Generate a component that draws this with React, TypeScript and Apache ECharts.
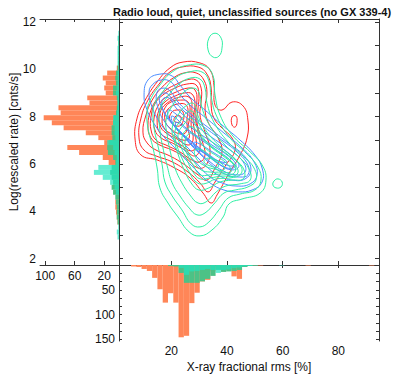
import React, { useEffect, useRef } from "react";
import * as echarts from "echarts";

const TITLE = "Radio loud, quiet, unclassified sources (no GX 339-4)";
const X_NAME = "X-ray fractional rms [%]";
const Y_NAME = "Log(rescaled rate) [cnts/s]";

const X_RANGE = [1.2, 94.6];
const Y_RANGE = [1.73, 12.13];
const LEFT_COUNT_MAX = 107;
const BOTTOM_COUNT_MAX = 153.5;

const xTickValues = [20, 40, 60, 80];
const yLabelValues = [2, 4, 6, 8, 10, 12];
const yTickValues = [2, 3, 4, 5, 6, 7, 8, 9, 10, 11, 12];
const leftCountLabels = [20, 60, 100];
const bottomCountLabels = [50, 100, 150];
const bottomCountTicks = [16.67, 33.33, 50, 66.67, 83.33, 100, 116.67, 133.33, 150];

// left marginal histogram (counts per log-rate bin)
const leftBinStart = 2.81;
const leftBinWidth = 0.21;
const leftOrange = [0, 0, 0, 2, 3, 4, 5, 5, 4, 3, 3, 2, 2, 3, 6, 14, 22, 54, 70, 20, 28, 45, 75, 91, 102, 79, 82, 40, 43, 18, 20, 18, 22, 16, 3, 1, 0, 0, 0, 0, 0, 0];
const leftGreen = [0, 0, 0, 2, 3, 3, 3, 4, 5, 8, 10, 8, 10, 12, 10, 5, 8, 15, 16, 14, 9, 10, 10, 8, 7, 4, 3, 2, 3, 8, 8, 4, 5, 4, 2, 1, 1, 1, 1, 1, 1, 0];
const leftAqua = [2, 3, 1, 0, 0, 0, 0, 0, 0, 4, 6, 12, 22, 34, 28, 4, 3, 6, 8, 16, 5, 6, 6, 8, 8, 3, 2, 2, 2, 4, 3, 2, 2, 2, 1, 2, 2, 2, 2, 1, 2, 1];

// bottom marginal histogram (counts per rms bin)
const bottomBinStart = 3.6;
const bottomBinWidth = 1.9;
const bottomOrange = [0, 3, 4, 8, 12, 26, 49, 76, 57, 76, 146, 143, 77, 56, 33, 30, 13, 7, 8, 10, 23, 28, 4, 2, 1, 1, 0, 0, 0, 0, 0, 0, 0, 0, 1, 0, 0, 0, 0, 0, 0, 0, 0, 0, 0, 0, 1, 0];
const bottomGreen = [0, 0, 0, 0, 0, 0, 0, 0, 2, 3, 16, 36, 36, 36, 33, 28, 22, 10, 14, 13, 12, 10, 4, 2, 1, 0, 0, 0, 0, 0, 0, 0, 0, 0, 0, 0, 0, 0, 0, 0, 0, 0, 0, 0, 0, 0, 0, 0];
const bottomAqua = [0, 0, 0, 0, 0, 0, 0, 0, 0, 0, 6, 20, 13, 12, 10, 8, 10, 16, 10, 9, 6, 5, 3, 2, 1, 0, 0, 0, 0, 1, 0, 0, 0, 0, 0, 0, 0, 0, 0, 0, 0, 0, 0, 0, 0, 0, 0, 0];

// contour rings, [rms %, log rate]
const redContours = [
  [[24.2, 10.31], [30.3, 10.27], [33.9, 9.97], [35.3, 9.34], [35.7, 8.49], [38.2, 8.28], [41.8, 8.62], [45.8, 8.45], [47.5, 7.86], [47.2, 7.1], [44.7, 6.38], [40.4, 5.54], [36.4, 4.69], [34.3, 4.35], [31.4, 4.77], [26.7, 5.41], [20.6, 5.87], [14.9, 6.17], [9.1, 6.38], [7.0, 7.01], [7.7, 7.94], [10.6, 8.7], [14.9, 9.47], [19.5, 10.06]],
  [[23.8, 10.1], [29.6, 10.1], [32.8, 9.8], [34.3, 9.21], [34.3, 8.49], [35.3, 7.94], [38.2, 7.52], [41.8, 7.1], [42.9, 6.59], [39.6, 5.96], [35.7, 5.24], [33.2, 4.82], [30.3, 5.2], [26.0, 5.66], [20.3, 6.09], [14.5, 6.34], [10.2, 6.59], [8.4, 7.1], [9.1, 7.94], [11.6, 8.7], [15.6, 9.38], [19.5, 9.89]],
  [[24.6, 9.85], [28.9, 9.85], [31.7, 9.55], [32.8, 9.0], [32.1, 8.37], [33.2, 7.77], [36.8, 7.1], [38.2, 6.51], [35.7, 5.83], [32.8, 5.32], [29.6, 5.54], [24.9, 5.96], [19.5, 6.34], [14.5, 6.59], [11.3, 6.89], [9.8, 7.35], [10.9, 8.07], [13.1, 8.7], [16.7, 9.25], [20.6, 9.63]],
  [[25.3, 9.55], [28.9, 9.55], [30.7, 9.21], [30.7, 8.62], [30.3, 8.07], [32.1, 7.35], [33.9, 6.59], [32.5, 5.96], [29.6, 5.83], [25.3, 6.25], [20.3, 6.59], [15.9, 6.8], [12.7, 7.1], [11.6, 7.65], [12.7, 8.28], [14.9, 8.75], [18.1, 9.13], [22.0, 9.38]],
  [[25.6, 9.38], [28.9, 9.34], [29.9, 8.92], [29.6, 8.37], [29.2, 7.77], [31.0, 7.01], [32.1, 6.38], [30.3, 6.09], [27.4, 6.17], [23.1, 6.51], [18.1, 6.8], [14.5, 7.01], [12.7, 7.44], [12.7, 7.99], [14.1, 8.54], [17.0, 8.92], [21.3, 9.21]],
  [[26.0, 9.21], [28.5, 9.13], [29.2, 8.7], [28.5, 8.07], [29.6, 7.35], [30.3, 6.68], [28.5, 6.34], [24.9, 6.59], [20.3, 6.89], [16.3, 7.1], [14.1, 7.44], [13.8, 7.94], [15.2, 8.45], [17.7, 8.79], [21.7, 9.04]],
  [[24.6, 9.0], [27.4, 8.96], [28.5, 8.54], [27.8, 7.94], [28.5, 7.27], [28.9, 6.76], [27.1, 6.55], [23.5, 6.8], [19.2, 7.06], [15.9, 7.31], [14.9, 7.77], [15.6, 8.28], [18.1, 8.66], [21.3, 8.87]],
  [[23.1, 8.83], [26.7, 8.79], [27.4, 8.28], [27.1, 7.65], [27.8, 7.01], [26.0, 6.8], [22.0, 7.06], [18.1, 7.31], [15.9, 7.65], [15.9, 8.15], [18.1, 8.54]],
  [[22.8, 8.7], [26.0, 8.62], [26.7, 8.11], [26.0, 7.52], [26.4, 7.1], [24.2, 7.01], [20.6, 7.23], [17.4, 7.52], [16.7, 7.94], [17.7, 8.37], [19.9, 8.62]],
  [[22.4, 8.54], [25.6, 8.45], [25.6, 7.86], [25.3, 7.35], [23.1, 7.27], [19.5, 7.52], [17.7, 7.86], [18.5, 8.28]],
  [[21.7, 8.28], [24.2, 8.2], [23.8, 7.69], [21.7, 7.61], [19.5, 7.86], [19.9, 8.15]],
  [[21.7, 8.03], [23.5, 7.99], [22.8, 7.77], [21.0, 7.82]],
  [[41.8, 7.99], [43.2, 8.03], [43.6, 7.77], [42.9, 7.56], [41.8, 7.65]],
];

const blueContours = [
  [[11.6, 9.55], [15.9, 9.8], [20.3, 9.72], [23.1, 9.34], [26.7, 8.83], [32.1, 8.28], [38.2, 7.65], [44.7, 7.01], [50.0, 6.38], [52.6, 5.83], [52.6, 5.24], [49.0, 4.9], [44.0, 4.82], [38.9, 4.9], [33.9, 5.2], [29.6, 5.66], [25.3, 6.17], [21.3, 6.68], [17.7, 7.1], [14.1, 7.65], [11.3, 8.28], [10.2, 8.92]],
  [[13.1, 9.34], [16.3, 9.55], [19.9, 9.47], [22.4, 9.04], [26.7, 8.49], [32.5, 7.94], [38.9, 7.31], [45.4, 6.68], [49.7, 6.09], [50.8, 5.54], [48.3, 5.16], [43.2, 5.07], [38.2, 5.2], [33.5, 5.49], [29.6, 5.96], [25.6, 6.47], [21.7, 6.93], [18.1, 7.39], [14.9, 7.94], [12.7, 8.54], [12.0, 9.04]],
  [[14.9, 9.04], [17.4, 9.21], [19.9, 9.04], [22.4, 8.62], [27.4, 8.07], [33.5, 7.52], [40.4, 6.89], [46.5, 6.3], [48.6, 5.75], [46.5, 5.37], [41.8, 5.32], [37.5, 5.49], [33.2, 5.83], [29.2, 6.3], [25.3, 6.76], [21.3, 7.27], [17.7, 7.77], [15.2, 8.37]],
  [[15.9, 8.87], [18.1, 9.0], [20.6, 8.7], [24.9, 8.2], [30.3, 7.69], [37.1, 7.1], [43.6, 6.51], [47.5, 5.96], [47.5, 5.54], [44.7, 5.45], [40.0, 5.54], [35.3, 5.87], [31.4, 6.3], [27.1, 6.8], [23.1, 7.35], [19.2, 7.9], [16.3, 8.45]],
  [[16.7, 8.7], [19.2, 8.79], [21.7, 8.37], [27.4, 7.77], [33.9, 7.18], [41.1, 6.59], [45.8, 6.09], [46.5, 5.66], [43.2, 5.54], [38.6, 5.71], [33.9, 6.09], [29.6, 6.55], [25.3, 7.06], [21.0, 7.61], [17.7, 8.11]],
  [[18.8, 8.28], [21.7, 8.11], [27.4, 7.52], [34.6, 6.93], [41.8, 6.34], [44.3, 5.92], [41.8, 5.75], [37.5, 5.96], [33.2, 6.34], [28.2, 6.85], [23.1, 7.39], [19.5, 7.86]],
  [[20.3, 8.03], [26.7, 7.39], [34.6, 6.8], [41.4, 6.25], [43.2, 5.92], [40.0, 5.83], [35.3, 6.17], [30.3, 6.59], [25.3, 7.1], [21.0, 7.61]],
  [[21.7, 7.77], [27.4, 7.27], [35.0, 6.68], [41.1, 6.17], [42.2, 5.92], [38.2, 6.04], [33.2, 6.42], [27.4, 6.93], [22.4, 7.44]],
  [[28.5, 6.93], [35.3, 6.47], [40.0, 6.09], [36.8, 6.13], [32.5, 6.42], [28.5, 6.72]],
];

const greenContours = [
  [[12.4, 8.7], [15.9, 9.34], [20.3, 9.89], [26.0, 10.18], [32.1, 10.14], [35.0, 9.72], [35.7, 8.92], [37.5, 8.07], [41.8, 7.23], [48.3, 6.51], [52.6, 5.96], [54.0, 5.32], [51.9, 4.77], [45.4, 4.52], [40.7, 4.31], [38.6, 3.76], [34.6, 3.21], [30.3, 2.96], [26.4, 3.13], [22.4, 3.76], [18.8, 4.35], [15.9, 4.99], [14.9, 5.83], [13.4, 6.68], [11.6, 7.52], [11.3, 8.2]],
  [[14.1, 8.58], [17.4, 9.13], [21.3, 9.63], [26.4, 9.89], [31.0, 9.89], [33.5, 9.51], [34.3, 8.83], [36.4, 7.99], [41.1, 7.1], [47.2, 6.42], [51.1, 5.87], [52.2, 5.32], [50.0, 4.9], [44.7, 4.73], [40.4, 4.56], [37.1, 4.06], [33.5, 3.55], [30.3, 3.34], [27.1, 3.47], [23.8, 4.06], [20.3, 4.65], [17.7, 5.24], [16.7, 5.96], [15.2, 6.76], [13.8, 7.52], [13.4, 8.15]],
  [[15.9, 8.28], [18.8, 8.87], [22.4, 9.34], [26.7, 9.63], [30.3, 9.59], [32.1, 9.21], [32.8, 8.58], [35.3, 7.77], [40.4, 6.93], [46.1, 6.3], [49.7, 5.83], [50.4, 5.32], [47.5, 5.03], [42.9, 4.9], [38.9, 4.77], [35.3, 4.31], [32.1, 3.93], [29.2, 3.85], [26.4, 4.14], [23.1, 4.65], [20.3, 5.2], [18.5, 5.92], [17.0, 6.68], [15.9, 7.44]],
  [[18.1, 7.86], [20.3, 8.45], [23.8, 8.96], [27.4, 9.21], [29.9, 9.04], [31.0, 8.37], [33.9, 7.61], [39.3, 6.8], [44.7, 6.25], [47.9, 5.79], [48.3, 5.32], [44.7, 5.16], [39.6, 5.07], [36.1, 4.82], [32.5, 4.4], [29.6, 4.35], [26.7, 4.69], [23.8, 5.2], [21.3, 5.83], [19.5, 6.59], [18.5, 7.23]],
  [[20.3, 7.52], [22.4, 8.07], [25.6, 8.49], [28.2, 8.54], [29.6, 8.03], [32.8, 7.35], [38.2, 6.68], [43.2, 6.17], [46.1, 5.75], [45.8, 5.37], [41.8, 5.32], [37.5, 5.24], [33.5, 4.99], [29.9, 4.9], [27.1, 5.2], [24.6, 5.75], [22.4, 6.42], [21.0, 7.01]],
  [[21.3, 7.39], [23.5, 7.86], [26.4, 8.24], [28.5, 8.11], [30.7, 7.52], [35.0, 6.89], [40.4, 6.38], [44.7, 5.96], [45.0, 5.58], [41.1, 5.41], [36.1, 5.37], [31.7, 5.16], [28.9, 5.24], [26.4, 5.66], [23.8, 6.25], [22.0, 6.8]],
  [[22.4, 7.23], [24.6, 7.69], [27.1, 7.94], [28.9, 7.61], [32.1, 7.01], [37.1, 6.51], [41.8, 6.09], [44.0, 5.71], [42.5, 5.49], [38.2, 5.49], [33.9, 5.41], [30.3, 5.37], [27.8, 5.66], [25.6, 6.17], [23.5, 6.72]],
  [[23.8, 7.06], [25.6, 7.48], [27.8, 7.56], [30.3, 7.18], [34.6, 6.68], [39.6, 6.25], [42.9, 5.87], [42.2, 5.58], [38.2, 5.58], [33.9, 5.54], [30.3, 5.54], [28.2, 5.87], [26.0, 6.34]],
  [[24.9, 6.93], [26.7, 7.31], [28.9, 7.18], [32.1, 6.68], [36.8, 6.3], [40.4, 5.96], [41.4, 5.66], [38.2, 5.66], [33.9, 5.66], [30.7, 5.75], [28.2, 6.09], [26.0, 6.51]],
  [[28.5, 6.59], [31.0, 6.59], [34.6, 6.25], [38.2, 6.0], [38.9, 5.75], [35.3, 5.79], [31.4, 5.96], [28.9, 6.25]],
  [[33.2, 6.25], [36.1, 6.09], [36.8, 5.87], [33.9, 5.92], [31.7, 6.09]],
  [[33.5, 11.32], [35.7, 11.53], [37.9, 11.32], [38.2, 10.9], [37.1, 10.56], [35.0, 10.52], [33.2, 10.82]],
  [[56.9, 5.28], [58.3, 5.37], [59.8, 5.24], [59.4, 5.03], [57.6, 4.99], [56.5, 5.11]],
];

const FONT = '"Liberation Sans", Arial, Helvetica, sans-serif';
const AXIS_COLOR = "#333";
const RED = "#ff2424";
const BLUE = "#4a8cff";
const GREEN = "#2ef0a4";
const ORANGE = "#ff8658";
const HIST_GREEN = "#4cc286";
const HIST_AQUA = "#22e4bf";

const axisLine = { show: true, lineStyle: { color: AXIS_COLOR, width: 1 } };
const ticks = (vals: number[], len: number) => ({
  show: true,
  inside: true,
  length: len,
  customValues: vals,
  lineStyle: { color: AXIS_COLOR, width: 1 },
});
const labels = (vals: number[], margin: number) => ({
  show: true,
  customValues: vals,
  margin,
  fontSize: 12,
  color: "#111",
  fontFamily: FONT,
});
const noLabel = { show: false };
const noSplit = { show: false };

function contourSeries(rings: number[][][], color: string) {
  return {
    type: "custom",
    xAxisIndex: 0,
    yAxisIndex: 0,
    clip: true,
    silent: true,
    data: rings.map((r, i) => [r[0][0], r[0][1], i]),
    renderItem: (params: any, api: any) => {
      const ring = rings[params.dataIndex];
      const pts = ring.map((p) => api.coord(p));
      return {
        type: "polygon",
        shape: { points: pts, smooth: 0.45 },
        style: { fill: "none", stroke: color, lineWidth: 1 },
      };
    },
  };
}

function leftHistSeries(counts: number[], color: string, opacity: number) {
  const data = counts
    .map((c, i) => [leftBinStart + i * leftBinWidth, leftBinStart + (i + 1) * leftBinWidth, c])
    .filter((d) => d[2] > 0);
  return {
    type: "custom",
    xAxisIndex: 2,
    yAxisIndex: 2,
    silent: true,
    encode: { x: 2, y: 0 },
    data,
    renderItem: (params: any, api: any) => {
      const a = api.coord([0, api.value(0)]);
      const b = api.coord([api.value(2), api.value(1)]);
      return {
        type: "rect",
        shape: { x: Math.min(a[0], b[0]), y: Math.min(a[1], b[1]), width: Math.abs(a[0] - b[0]), height: Math.abs(a[1] - b[1]) },
        style: { fill: color, opacity },
      };
    },
  };
}

function bottomHistSeries(counts: number[], color: string, opacity: number) {
  const data = counts
    .map((c, i) => [bottomBinStart + i * bottomBinWidth, bottomBinStart + (i + 1) * bottomBinWidth, c])
    .filter((d) => d[2] > 0);
  return {
    type: "custom",
    xAxisIndex: 4,
    yAxisIndex: 3,
    silent: true,
    encode: { x: 0, y: 2 },
    data,
    renderItem: (params: any, api: any) => {
      const a = api.coord([api.value(0), 0]);
      const b = api.coord([api.value(1), api.value(2)]);
      return {
        type: "rect",
        shape: { x: Math.min(a[0], b[0]), y: Math.min(a[1], b[1]), width: Math.abs(a[0] - b[0]), height: Math.abs(a[1] - b[1]) },
        style: { fill: color, opacity },
      };
    },
  };
}

const option: any = {
  animation: false,
  backgroundColor: "#ffffff",
  textStyle: { fontFamily: FONT },
  grid: [
    { left: 119, top: 19, width: 260, height: 246 },
    { left: 40, top: 19, width: 79, height: 246 },
    { left: 119, top: 265, width: 260, height: 76 },
  ],
  xAxis: [
    { gridIndex: 0, type: "value", position: "bottom", min: X_RANGE[0], max: X_RANGE[1], axisLine, axisTick: ticks(xTickValues, 3), axisLabel: noLabel, splitLine: noSplit },
    { gridIndex: 0, type: "value", position: "top", min: X_RANGE[0], max: X_RANGE[1], axisLine, axisTick: ticks(xTickValues, 4), axisLabel: noLabel, splitLine: noSplit },
    { gridIndex: 1, type: "value", position: "bottom", inverse: true, min: 0, max: LEFT_COUNT_MAX, axisLine, axisTick: ticks(leftCountLabels, 4), axisLabel: labels(leftCountLabels, 5), splitLine: noSplit },
    { gridIndex: 1, type: "value", position: "top", inverse: true, min: 0, max: LEFT_COUNT_MAX, axisLine, axisTick: ticks(leftCountLabels, 3), axisLabel: noLabel, splitLine: noSplit },
    { gridIndex: 2, type: "value", position: "bottom", min: X_RANGE[0], max: X_RANGE[1], axisLine, axisTick: ticks(xTickValues, 4), axisLabel: labels(xTickValues, 4), splitLine: noSplit },
    { gridIndex: 2, type: "value", position: "top", min: X_RANGE[0], max: X_RANGE[1], axisLine, axisTick: ticks(xTickValues, 3), axisLabel: noLabel, splitLine: noSplit },
  ],
  yAxis: [
    { gridIndex: 0, type: "value", position: "left", min: Y_RANGE[0], max: Y_RANGE[1], axisLine, axisTick: ticks(yTickValues, 4), axisLabel: noLabel, splitLine: noSplit },
    { gridIndex: 0, type: "value", position: "right", min: Y_RANGE[0], max: Y_RANGE[1], axisLine, axisTick: ticks(yTickValues, 4), axisLabel: noLabel, splitLine: noSplit },
    { gridIndex: 1, type: "value", position: "left", min: Y_RANGE[0], max: Y_RANGE[1], axisLine, axisTick: ticks(yTickValues, 4), axisLabel: labels(yLabelValues, 4), splitLine: noSplit },
    { gridIndex: 2, type: "value", position: "left", inverse: true, min: 0, max: BOTTOM_COUNT_MAX, axisLine, axisTick: ticks(bottomCountTicks, 3), axisLabel: labels(bottomCountLabels, 4), splitLine: noSplit },
    { gridIndex: 2, type: "value", position: "right", inverse: true, min: 0, max: BOTTOM_COUNT_MAX, axisLine, axisTick: ticks(bottomCountTicks, 3), axisLabel: noLabel, splitLine: noSplit },
  ],
  series: [
    leftHistSeries(leftOrange, ORANGE, 1),
    leftHistSeries(leftGreen, HIST_GREEN, 1),
    leftHistSeries(leftAqua, HIST_AQUA, 0.7),
    bottomHistSeries(bottomOrange, ORANGE, 1),
    bottomHistSeries(bottomGreen, HIST_GREEN, 1),
    bottomHistSeries(bottomAqua, HIST_AQUA, 0.7),
    contourSeries(redContours, RED),
    contourSeries(blueContours, BLUE),
    contourSeries(greenContours, GREEN),
  ],
  graphic: [
    { type: "text", left: 113, top: 6, style: { text: TITLE, fontSize: 11, fontWeight: "bold", fill: "#111", fontFamily: FONT } },
    { type: "text", x: 249, y: 367, style: { text: X_NAME, fontSize: 12, fill: "#111", fontFamily: FONT, align: "center", verticalAlign: "middle" } },
    { type: "text", x: 14, y: 142, rotation: Math.PI / 2, style: { text: Y_NAME, fontSize: 12, fill: "#111", fontFamily: FONT, align: "center", verticalAlign: "middle" } },
  ],
};

export default function App() {
  const ref = useRef<HTMLDivElement>(null);
  useEffect(() => {
    const chart = echarts.init(ref.current!, null, { renderer: "svg" });
    chart.setOption(option);
    return () => chart.dispose();
  }, []);
  return (
    <div
      ref={ref}
      style={{ position: "fixed", left: 0, top: 0, width: 399, height: 379, background: "#fff" }}
    />
  );
}
